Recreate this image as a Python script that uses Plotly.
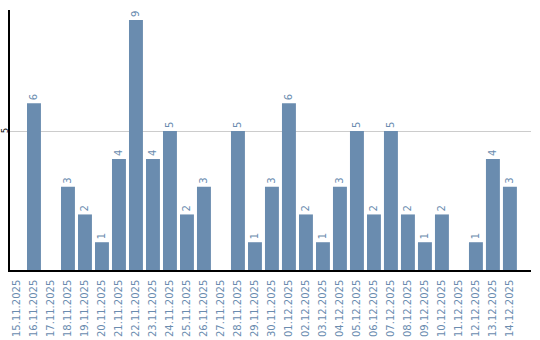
import plotly.graph_objects as go

dates = ["15.11.2025", "16.11.2025", "17.11.2025", "18.11.2025", "19.11.2025",
         "20.11.2025", "21.11.2025", "22.11.2025", "23.11.2025", "24.11.2025",
         "25.11.2025", "26.11.2025", "27.11.2025", "28.11.2025", "29.11.2025",
         "30.11.2025", "01.12.2025", "02.12.2025", "03.12.2025", "04.12.2025",
         "05.12.2025", "06.12.2025", "07.12.2025", "08.12.2025", "09.12.2025",
         "10.12.2025", "11.12.2025", "12.12.2025", "13.12.2025", "14.12.2025"]
values = [0, 6, 0, 3, 2, 1, 4, 9, 4, 5, 2, 3, 0, 5, 1, 3, 6, 2, 1, 3,
          5, 2, 5, 2, 1, 2, 0, 1, 4, 3]
y_ticks = [5]

bar_color = "#6a8caf"
label_color = "#6a8caf"

texts = [str(v) if v > 0 else "" for v in values]

fig = go.Figure(go.Bar(
    x=dates, y=values, marker_color=bar_color, marker_line_width=0,
    text=texts, textposition="outside", textangle=-90,
    textfont=dict(family="DejaVu Sans", size=10, color=label_color),
    cliponaxis=False,
))

for t in y_ticks:
    fig.add_annotation(
        xref="paper", x=0, yref="y", y=t, text=str(t), showarrow=False,
        xanchor="center", yanchor="middle", xshift=-5, textangle=-90,
        font=dict(family="DejaVu Sans", size=8, color="black"),
        borderpad=0,
    )

fig.update_layout(
    width=540, height=340,
    margin=dict(l=10, r=9, t=10, b=70),
    plot_bgcolor="white", paper_bgcolor="white",
    bargap=0.18, showlegend=False,
    xaxis=dict(
        type="category", range=[-0.41, 30.24], automargin=False,
        tickangle=-90, tickfont=dict(family="DejaVu Sans", size=10, color=label_color),
        showline=True, linecolor="black", linewidth=1.5,
        showgrid=False, ticks="", ticklen=0, ticklabelstandoff=4,
    ),
    yaxis=dict(
        range=[0, 9.36], tickvals=y_ticks, showticklabels=False,
        automargin=False,
        showline=True, linecolor="black", linewidth=1.5,
        showgrid=True, gridcolor="#cccccc", gridwidth=1,
        zeroline=False, ticks="", ticklen=0,
    ),
)

fig.write_html("out.html")
